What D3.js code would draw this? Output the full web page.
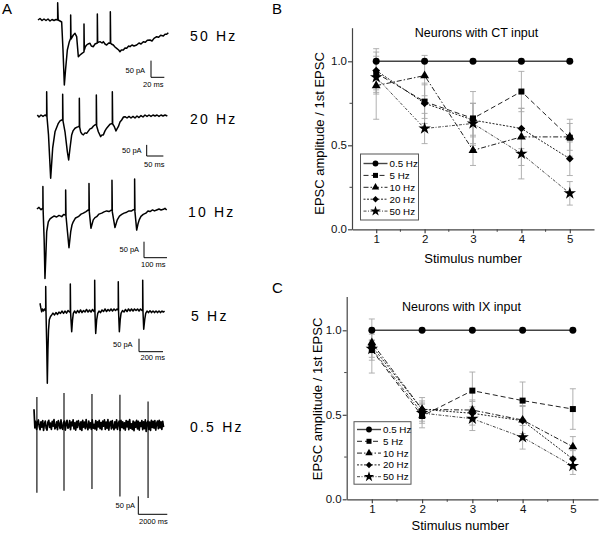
<!DOCTYPE html>
<html><head><meta charset="utf-8">
<script src="https://cdn.jsdelivr.net/npm/d3@7"></script>
<style>body{margin:0;background:#fff;} svg{display:block;font-family:"Liberation Sans",Arial,sans-serif;}</style>
</head><body>
<svg id="fig" width="600" height="534"></svg>
<script>
// ---------------- DATA ----------------
const stimulusNumbers = [1, 2, 3, 4, 5];
const frequencyLabels = ["0.5 Hz", "5 Hz", "10 Hz", "20 Hz", "50 Hz"];
const traceLabels = ["50 Hz", "20 Hz", "10 Hz", "5 Hz", "0.5 Hz"];
const yTickValues = [0, 0.5, 1.0];
const yTickLabels = ["0.0", "0.5", "1.0"];
const yMinorTicks = [0.25, 0.75];
const xMinorTicks = [1.5, 2.5, 3.5, 4.5];

// Panel B: neurons with CT input (mean, sem)
const ctMean05 = [1, 1, 1, 1, 1];
const ctMean5 = [0.93, 0.76, 0.66, 0.82, 0.545];
const ctMean10 = [0.855, 0.915, 0.47, 0.55, 0.55];
const ctMean20 = [0.945, 0.75, 0.65, 0.60, 0.42];
const ctMean50 = [0.905, 0.60, 0.63, 0.45, 0.214];
const ctErr05 = [0, 0, 0, 0, 0];
const ctErr5 = [0.10, 0.10, 0.16, 0.12, 0.11];
const ctErr10 = [0.20, 0.12, 0.09, 0.17, 0.08];
const ctErr20 = [0.13, 0.12, 0.10, 0.12, 0.10];
const ctErr50 = [0.10, 0.09, 0.12, 0.15, 0.07];

// Panel C: neurons with IX input (mean, sem)
const ixMean05 = [1, 1, 1, 1, 1];
const ixMean5 = [0.883, 0.493, 0.643, 0.584, 0.534];
const ixMean10 = [0.927, 0.532, 0.528, 0.469, 0.311];
const ixMean20 = [0.907, 0.532, 0.509, 0.465, 0.238];
const ixMean50 = [0.89, 0.51, 0.477, 0.367, 0.197];
const ixErr05 = [0, 0, 0, 0, 0];
const ixErr5 = [0.06, 0.07, 0.11, 0.11, 0.12];
const ixErr10 = [0.05, 0.07, 0.06, 0.08, 0.06];
const ixErr20 = [0.16, 0.05, 0.07, 0.09, 0.05];
const ixErr50 = [0.05, 0.06, 0.07, 0.07, 0.05];

// Panel A: example traces, [time ms, current pA]
const trace50Hz = [[0,0],[3,4.5],[6,-1.5],[9,3],[12,-1.5],[15,3],[18,-3],[21,1.5],[24,-1.5],[27,1.5],[29.5,0],[29.5,52],[30.3,0],[33,-3],[35.5,-6],[37.5,-90],[39.5,-195],[41.3,-150],[44,-90],[47,-65],[49,-55],[49,15],[49.5,-57],[53,-45],[55.5,-40],[58,-50],[60.5,-110],[63,-105],[66,-100],[69,-96],[69,-12],[69.5,-90],[71,-80],[73,-75],[75,-72],[78,-70],[80,-78],[83,-80],[85.5,-72],[89,-69],[89,18],[89.5,-68],[93,-65],[96,-69],[98,-65],[100.5,-72],[103,-75],[106,-69],[108.5,-70],[108.5,25],[109,-70],[110,-72],[113,-75],[115.5,-81],[118,-85],[121,-90],[123,-95],[125,-90],[128,-90],[130.5,-84],[133,-85],[136,-78],[138,-80],[141,-75],[144,-78],[148,-75],[151.5,-69],[154.5,-72],[158,-65],[161,-67],[164,-61],[168,-60],[171,-63],[174,-55],[178,-50],[181,-52],[184,-46],[188,-48],[190.5,-43],[193,-43],[195.5,-38]];
const trace20Hz = [[1,4.5],[6,-4.5],[12,4.5],[18,-2],[24,4.5],[29,0],[29,109],[30,-4.5],[34.5,-85],[41,-280],[47,-145],[54,-71],[64,-33],[69,-22],[74,-18],[77,-18],[77,98],[78,-22],[84,-71],[91,-160],[95,-198],[99,-145],[104,-85],[108,-67],[114,-55],[120,-50],[124,-48],[127,-45],[127,80],[128,-50],[131,-71],[135,-81],[139,-85],[144,-76],[149,-78],[154.5,-67],[159,-58],[164,-55],[169.5,-45],[174,-40],[178,-38],[178,94],[179,-45],[184,-71],[191,-93],[195,-85],[199,-85],[204,-67],[209,-55],[214.5,-45],[219,-37],[226,-33],[226,109],[227,-36],[232,-48],[237,-67],[240,-58],[244,-48],[249,-27],[254,-18],[259.5,-4.5],[264,-3],[270,-9],[276,-2],[282,-9],[288,-2],[294,-9],[300,0],[306,-7],[312,2],[318,-4.5],[324,4.5],[330,-2],[336,4.5],[342,-2],[348,4.5],[354,0],[360,4.5],[366,-2],[372,4.5],[378,0],[384,4.5],[391,0]];
const trace10Hz = [[4,0],[13,5],[22,-2],[30,3],[30,70],[31,-3],[35.5,-97],[39,-217],[43,-144],[46.5,-71],[53.5,-40],[61,-31],[68,-27],[78,-22],[90,-25],[100,-20],[112,-24],[120,-17],[128,-19],[129,-19],[129,59],[130.5,-22],[137,-72],[143.5,-121],[151,-71],[156.5,-50],[162,-40],[172,-28],[184,-24],[196,-16],[206,-13],[217.5,-8],[227.5,-3],[230.5,-5],[230.5,80],[232,-9],[239,-60],[249,-34],[256.5,-27],[264,-24],[274,-16],[286,-13],[296,-9],[307.5,-6],[317.5,-8],[329,-3],[330.5,-3],[330.5,90],[332,-9],[343.5,-58],[353.5,-34],[363,-22],[373,-17],[383,-13],[394.5,-10],[404.5,-6],[416,-6],[424,-2],[429,-3],[429,94],[430.5,-9],[438,-66],[443.5,-47],[449,-34],[456.5,-23],[466.5,-17],[478,-13],[487,-6],[496,-8],[507,-3],[515,-6],[525,-3],[535,0],[544,-3],[554,-1],[561,2],[568.5,-3]];
const trace5Hz = [[0,26],[7,8],[14,-7],[21,4],[29,-4],[37.5,4],[46,-2],[47.5,-2],[47.5,90],[50,-8],[56,-135],[61,-282],[66,-154],[71,-77],[77.5,-38],[87.5,-25],[97.5,-19],[108,-12],[121,-19],[133,-10],[146,-17],[158,-8],[171,-13],[183,-4],[196,-13],[208,-4],[221,-12],[233,-2],[246,-8],[252.5,-6],[252.5,100],[255,-12],[264,-84],[271,-38],[277.5,-13],[287.5,-4],[300,-12],[312.5,-2],[325,-10],[337.5,0],[350,-10],[362.5,-2],[375,-8],[387.5,2],[400,-8],[412.5,0],[425,-8],[437.5,2],[450,-6],[455.5,-4],[455.5,115],[458,-12],[464,-90],[472,-38],[481,-13],[491.5,-4],[504,-10],[516.5,0],[529,-6],[541.5,4],[554,-6],[566.5,2],[579,-4],[591.5,4],[604,-4],[616.5,4],[629,-2],[641.5,4],[650,0],[652,0],[652,109],[654.5,-8],[661,-84],[668,-38],[675,-13],[687,-2],[700,-8],[712,2],[725,-6],[737,4],[750,-4],[762,4],[775,-4],[787,4],[800,-2],[812.5,4],[825,-4],[837,4],[850,-2],[855.5,-2],[855.5,115],[858,-8],[864,-74],[872,-38],[880.5,-13],[891.5,-4],[904,-10],[916.5,-3],[929,-10],[941.5,-4],[954,-10],[966.5,-4],[979,-10],[991.5,-4],[1004,-10],[1016.5,-4],[1027.5,-8],[1037.5,-4]];
// 0.5 Hz: current sampled every 60 ms (pA), plus stimulus artifacts [time ms, up pA, down pA]
const trace05HzValues = [44,-8,10,-12,6,14,-4,-13,9,-6,12,-15,3,11,-9,-14,8,13,-7,5,-12,10,-3,15,-11,-6,9,-13,12,2,-10,14,-8,-12,7,11,-14,4,13,-9,-5,12,-13,8,-2,14,-11,6,-14,10,-7,12,3,-12,9,-15,13,-6,8,-10,15,-4,-13,11,-8,6,-12,14,-9,2,-11,12,-14,9,-5,13,-10,7,-13,11,-3,14,-12,8,-9,15,-14,5,10,-11,12,-6,-13,9,-8,14,-12,4,11,-15,13,-7,9,-10,6,-14,12,-5,10,-13,15,-9,3,-12,11,-16,8,-6,13,-11,10,-14,7,-4,12,-13,9,-10,14,-18,6,11,-12,8,-15,13,-7,10,-9,12,-14,5,11,-10,13,-8,9,-12,10,-6];
const artifacts05Hz = [[200,78,-188],[2070,89,-183],[4000,86,-178],[5930,84,-199],[7870,65,-203]];
const scaleBarTimes = [20, 50, 100, 200, 2000];
const scaleBarTimeLabels = ["20 ms", "50 ms", "100 ms", "200 ms", "2000 ms"];
const scaleBarCurrent = 50;
const scaleBarCurrentLabel = "50 pA";

// ---------------- DRAWING ----------------
const svg = d3.select("#fig");
const FONT = "'Liberation Sans',Arial,sans-serif";

// Panel letters
[["A",2,14],["B",272,14],["C",272,293]].forEach(([t,x,y]) =>
  svg.append("text").attr("x",x).attr("y",y).attr("font-size",15).attr("font-family",FONT).text(t));

// Trace layouts (positions only)
const traceLayouts = [
  {data: trace50Hz, x0:38, msPx:1.5, y0:20, pAPx:3, labelY:40.7, labelX:190,
   bar:{x:151, y:77.3, pAx:125.5, pAy:72.5, tx:143, ty:87}},
  {data: trace20Hz, x0:37, msPx:3, y0:116, pAPx:4.5, labelY:124, labelX:190,
   bar:{x:146.7, y:156, pAx:122, pAy:152.5, tx:144, ty:166.5}},
  {data: trace10Hz, x0:36, msPx:4.35, y0:209, pAPx:3.125, labelY:217, labelX:188,
   bar:{x:144, y:257.7, pAx:119.5, pAy:252.3, tx:141, ty:266.7}},
  {data: trace5Hz, x0:40, msPx:8.33, y0:310, pAPx:3.85, labelY:320.7, labelX:191,
   bar:{x:139, y:351.7, pAx:113, pAy:346.7, tx:140.5, ty:360}},
  {data: null, x0:34, msPx:69, y0:425, pAPx:2.78, labelY:432, labelX:190,
   bar:{x:138.3, y:514.3, pAx:115.5, pAy:508.3, tx:139, ty:524}}
];

traceLayouts.forEach((L, i) => {
  const xs = d3.scaleLinear().domain([0, 100]).range([L.x0, L.x0 + 100 / L.msPx]);
  const ys = d3.scaleLinear().domain([0, 100]).range([L.y0, L.y0 - 100 / L.pAPx]);
  const line = d3.line().x(d => xs(d[0])).y(d => ys(d[1]));
  const g = svg.append("g");
  if (L.data) {
    g.append("path").attr("d", line(L.data)).attr("fill","none").attr("stroke","#000")
      .attr("stroke-width",1.5).attr("stroke-linejoin","round");
  } else {
    const pts = trace05HzValues.map((v, k) => [k * 60, v]);
    g.append("path").attr("d", line(pts)).attr("fill","none").attr("stroke","#000")
      .attr("stroke-width",1.7).attr("stroke-linejoin","round");
    g.selectAll("line.art").data(artifacts05Hz).enter().append("line")
      .attr("x1", d => xs(d[0])).attr("x2", d => xs(d[0]))
      .attr("y1", d => ys(d[1])).attr("y2", d => ys(d[2]))
      .attr("stroke","#000").attr("stroke-width",1.1);
  }
  // scale bar
  const b = L.bar;
  const vLen = ys(0) - ys(scaleBarCurrent);
  const hLen = xs(scaleBarTimes[i]) - xs(0);
  g.append("path").attr("d", `M${b.x},${b.y - vLen}V${b.y}H${b.x + hLen}`)
    .attr("fill","none").attr("stroke","#000").attr("stroke-width",1);
  g.append("text").attr("x", b.pAx).attr("y", b.pAy).attr("font-size",7.5).attr("font-family",FONT)
    .text(scaleBarCurrentLabel);
  g.append("text").attr("x", b.tx).attr("y", b.ty).attr("font-size",7.5).attr("font-family",FONT)
    .text(scaleBarTimeLabels[i]);
  // frequency label
  g.append("text").attr("x", L.labelX).attr("y", L.labelY).attr("font-size",14)
    .attr("letter-spacing","2.2px").attr("font-family",FONT).text(traceLabels[i]);
});

// Series styling
const seriesStyles = [
  {sym: d3.symbolCircle, size: 38, rot: 0, dash: null, lw: 1.4, col: "#444"},
  {sym: d3.symbolSquare, size: 36, rot: 0, dash: "5,3", lw: 1, col: "#222"},
  {sym: d3.symbolTriangle, size: 34, rot: 0, dash: "5,2,1.5,2", lw: 1, col: "#222"},
  {sym: d3.symbolSquare, size: 30, rot: 45, dash: "2,1.5", lw: 1, col: "#222"},
  {sym: d3.symbolStar, size: 48, rot: 0, dash: "3,1.5,1,1.5", lw: 0.9, col: "#333"}
];

function drawChart(cfg) {
  const g = svg.append("g");
  const x = d3.scaleLinear().domain([0.5, 5.5]).range([cfg.left, cfg.right]);
  const y = d3.scaleLinear().domain([0, 1.2]).range([cfg.bottom, cfg.top]);

  // axes
  const xAxis = d3.axisBottom(x).tickValues(stimulusNumbers).tickFormat(d => String(d))
    .tickSize(4).tickSizeOuter(0).tickPadding(2);
  const yAxis = d3.axisLeft(y).tickValues(yTickValues).tickFormat((d, i) => yTickLabels[i])
    .tickSize(4).tickSizeOuter(0).tickPadding(1);
  const gx = g.append("g").attr("transform", `translate(0,${cfg.bottom})`).call(xAxis);
  const gy = g.append("g").attr("transform", `translate(${cfg.left},0)`).call(yAxis);
  [gx, gy].forEach(a => {
    a.attr("font-size", 11.5).attr("font-family", FONT);
    a.selectAll("path,line").attr("stroke", "#444").attr("stroke-width", 1.2);
    a.selectAll("text").attr("fill", "#111");
  });
  gx.selectAll("line.minor").data(xMinorTicks).enter().append("line")
    .attr("x1", d => x(d)).attr("x2", d => x(d)).attr("y1", 0).attr("y2", 2.5)
    .attr("stroke", "#444").attr("stroke-width", 1);
  gy.selectAll("line.minor").data(yMinorTicks).enter().append("line")
    .attr("y1", d => y(d)).attr("y2", d => y(d)).attr("x1", 0).attr("x2", -2.5)
    .attr("stroke", "#444").attr("stroke-width", 1);

  // axis titles
  g.append("text").attr("x", (cfg.left + cfg.right) / 2 + cfg.xLabelShift).attr("y", cfg.xLabelY)
    .attr("text-anchor", "middle").attr("font-size", 13).attr("font-family", FONT).text("Stimulus number");
  g.append("text").attr("transform", `translate(${cfg.yLabelX},${cfg.yLabelCenter}) rotate(-90)`)
    .attr("text-anchor", "middle").attr("font-size", 13).attr("font-family", FONT)
    .text("EPSC amplitude / 1st EPSC");
  g.append("text").attr("x", cfg.titleX).attr("y", cfg.titleY).attr("text-anchor", "middle")
    .attr("font-size", 12.5).attr("font-family", FONT).text(cfg.title);

  // error bars
  cfg.means.forEach((m, s) => {
    const e = cfg.errs[s];
    stimulusNumbers.forEach((n, k) => {
      if (e[k] <= 0) return;
      const xx = x(n), y1 = y(m[k] + e[k]), y2 = y(m[k] - e[k]);
      g.append("path").attr("d", `M${xx},${y1}V${y2}M${xx - 3},${y1}H${xx + 3}M${xx - 3},${y2}H${xx + 3}`)
        .attr("stroke", "#a8a8a8").attr("stroke-width", 0.9).attr("fill", "none");
    });
  });
  // lines
  const line = d3.line().x((d, k) => x(stimulusNumbers[k])).y(d => y(d));
  cfg.means.forEach((m, s) => {
    const st = seriesStyles[s];
    g.append("path").attr("d", line(m)).attr("fill", "none").attr("stroke", st.col)
      .attr("stroke-width", st.lw).attr("stroke-dasharray", st.dash);
  });
  // markers
  cfg.means.forEach((m, s) => {
    const st = seriesStyles[s];
    stimulusNumbers.forEach((n, k) => {
      g.append("path").attr("d", d3.symbol(st.sym, st.size)())
        .attr("transform", `translate(${x(n)},${y(m[k])}) rotate(${st.rot})`).attr("fill", "#000");
    });
  });

  // legend
  const lg = cfg.legend;
  g.append("rect").attr("x", lg.x).attr("y", lg.y).attr("width", lg.w).attr("height", lg.h)
    .attr("fill", "#fff").attr("stroke", "#555").attr("stroke-width", 1);
  frequencyLabels.forEach((lab, s) => {
    const st = seriesStyles[s];
    const yy = lg.y + lg.first + s * lg.step;
    g.append("line").attr("x1", lg.x + 3).attr("x2", lg.x + 27).attr("y1", yy).attr("y2", yy)
      .attr("stroke", st.col).attr("stroke-width", st.lw).attr("stroke-dasharray", st.dash);
    g.append("path").attr("d", d3.symbol(st.sym, st.size * 0.7)())
      .attr("transform", `translate(${lg.x + 15},${yy}) rotate(${st.rot})`).attr("fill", "#000");
    g.append("text").attr("x", lg.x + 29).attr("y", yy + 3.5).attr("font-size", 9.8)
      .attr("font-family", FONT).text(lab);
  });
}

drawChart({
  left: 352, right: 594, bottom: 229.3, top: 27.7,
  title: "Neurons with CT input", titleX: 476.5, titleY: 36.5,
  yLabelX: 323.5, yLabelCenter: 133.5, xLabelShift: 0, xLabelY: 262.5,
  means: [ctMean05, ctMean5, ctMean10, ctMean20, ctMean50],
  errs: [ctErr05, ctErr5, ctErr10, ctErr20, ctErr50],
  legend: {x: 360.5, y: 154, w: 58, h: 66, first: 9.5, step: 11.9}
});
drawChart({
  left: 346.7, right: 598, bottom: 499.3, top: 296.5,
  title: "Neurons with IX input", titleX: 461.5, titleY: 310.5,
  yLabelX: 322, yLabelCenter: 399, xLabelShift: -12, xLabelY: 530,
  means: [ixMean05, ixMean5, ixMean10, ixMean20, ixMean50],
  errs: [ixErr05, ixErr5, ixErr10, ixErr20, ixErr50],
  legend: {x: 354, y: 421.7, w: 57, h: 62.5, first: 7.8, step: 11.8}
});
</script>
</body></html>
